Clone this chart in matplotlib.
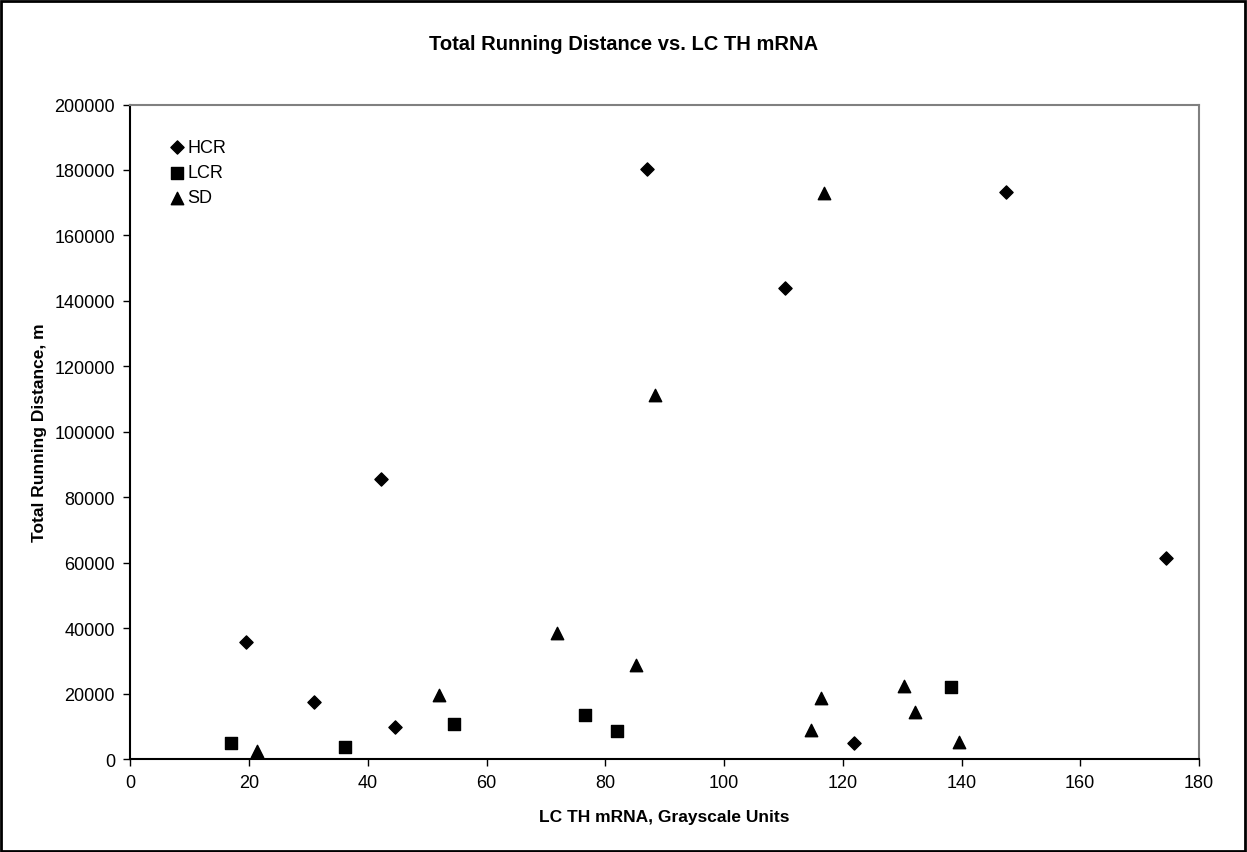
import matplotlib
matplotlib.use("Agg")
import matplotlib.pyplot as plt

plt.rcParams["font.family"] = ["Liberation Sans", "DejaVu Sans"]

# values
hcr_x = [19.5, 30.9, 44.6, 42.3, 87.1, 110.3, 121.9, 147.5, 174.5]
hcr_y = [35700, 17300, 9900, 85500, 180400, 143800, 4800, 173200, 61300]

lcr_x = [17.0, 36.1, 54.5, 76.6, 81.9, 138.2]
lcr_y = [4900, 3600, 10800, 13300, 8700, 22100]

sd_x = [21.3, 52.0, 71.9, 85.1, 88.4, 114.7, 116.3, 116.9, 130.3, 132.2, 139.6]
sd_y = [2400, 19700, 38400, 28800, 111200, 8800, 18500, 173000, 22200, 14500, 5300]

x_ticks = list(range(0, 181, 20))
y_ticks = list(range(0, 200001, 20000))

fig = plt.figure(figsize=(12.47, 8.53), dpi=100)
ax = fig.add_axes([0.1045, 0.109, 0.857, 0.7673])

ax.scatter(hcr_x, hcr_y, marker="D", s=45, color="black", label="HCR", zorder=3)
ax.scatter(lcr_x, lcr_y, marker="s", s=75, color="black", label="LCR", zorder=3)
ax.scatter(sd_x, sd_y, marker="^", s=80, color="black", label="SD", zorder=3)

ax.set_xlim(0, 180)
ax.set_ylim(0, 200000)
ax.set_xticks(x_ticks)
ax.set_yticks(y_ticks)
ax.tick_params(axis="both", labelsize=13, direction="out", length=5, width=1, pad=6)

for side in ["top", "right"]:
    ax.spines[side].set_color("#808080")
    ax.spines[side].set_linewidth(1.5)
for side in ["left", "bottom"]:
    ax.spines[side].set_color("black")
    ax.spines[side].set_linewidth(1.5)

# title is centred on the whole figure, not on the axes
fig.text(0.5, 1 - 44 / 853, "Total Running Distance vs. LC TH mRNA", fontsize=14.5,
         fontweight="bold", ha="center", va="center")
ax.set_xlabel("LC TH mRNA, Grayscale Units", fontsize=12.5, fontweight="bold", labelpad=13)
ax.set_ylabel("Total Running Distance, m", fontsize=12.5, fontweight="bold", labelpad=5)

ax.legend(loc="upper left", bbox_to_anchor=(0.028, 0.958), frameon=False,
          fontsize=13, handletextpad=0.0, labelspacing=0.45, borderaxespad=0,
          handlelength=1.1)

border = plt.Rectangle((0.001, 0.001), 0.997, 0.997, transform=fig.transFigure,
                       fill=False, edgecolor="black", linewidth=2)
fig.patches.append(border)

fig.savefig("out.png", dpi=100)
